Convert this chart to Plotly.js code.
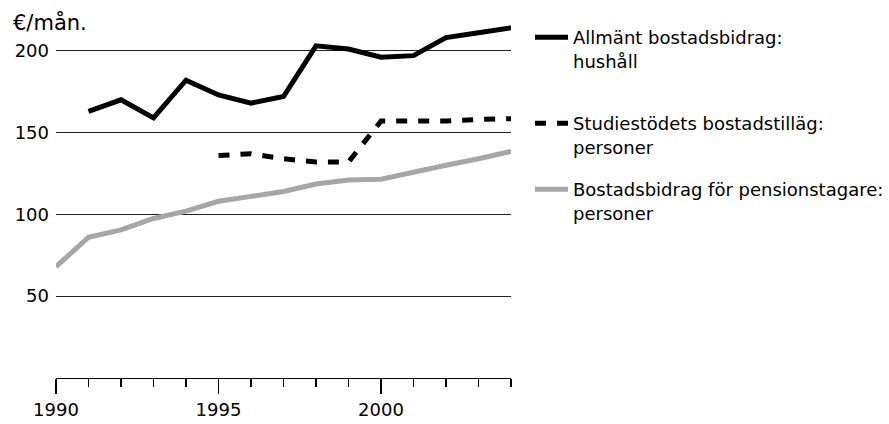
<!DOCTYPE html>
<html>
<head>
<meta charset="utf-8">
<script src="https://cdn.plot.ly/plotly-3.0.1.min.js"></script>
<style>
  html, body { margin: 0; padding: 0; background: #ffffff; }
  #chart { width: 889px; height: 424px; }
</style>
</head>
<body>
<div id="chart"></div>
<script>
const years = [1990, 1991, 1992, 1993, 1994, 1995, 1996, 1997, 1998, 1999, 2000, 2001, 2002, 2003, 2004];
const allmant = [null, 163, 170, 159, 182, 173, 168, 172, 203, 201, 196, 197, 208, 211, 214];
const studie = [null, null, null, null, null, 136, 137, 134, 132, 132, 157, 157, 157, 158, 158.5];
const pension = [68, 86, 90.5, 97.5, 102, 108, 111, 114, 118.5, 121, 121.5, 126, 130, 134, 138.5];

const seriesNames = [
  'Allmänt bostadsbidrag:<br>hushåll',
  'Studiestödets bostadstilläg:<br>personer',
  'Bostadsbidrag för pensionstagare:<br>personer'
];
const yTicks = [50, 100, 150, 200];
const xTicks = [1990, 1995, 2000];
const unitLabel = '€/mån.';

const FONT = 'DejaVu Sans, sans-serif';
const FS = 18;

const traces = [
  {
    x: years, y: allmant, type: 'scatter', mode: 'lines', name: seriesNames[0],
    line: { color: '#000000', width: 5 }, legend: 'legend', connectgaps: false
  },
  {
    x: years, y: studie, type: 'scatter', mode: 'lines', name: seriesNames[1],
    line: { color: '#000000', width: 5, dash: '11px,11px' }, legend: 'legend2'
  },
  {
    x: years, y: pension, type: 'scatter', mode: 'lines', name: seriesNames[2],
    line: { color: '#a6a6a6', width: 5 }, legend: 'legend3'
  }
];

const legendBase = {
  xref: 'container', yref: 'container', xanchor: 'left', yanchor: 'top',
  bgcolor: 'rgba(0,0,0,0)', borderwidth: 0, valign: 'top', itemwidth: 33,
  font: { family: FONT, size: FS, color: '#000' }
};

const layout = {
  width: 889, height: 424,
  margin: { l: 56, r: 378, t: 18, b: 46 },
  paper_bgcolor: '#ffffff', plot_bgcolor: '#ffffff',
  font: { family: FONT, size: FS, color: '#000000' },
  showlegend: true,
  xaxis: {
    range: [1990, 2004], tickvals: xTicks, ticktext: xTicks.map(String),
    showgrid: false, zeroline: false, showline: true, linecolor: '#000', linewidth: 1.2,
    ticks: 'outside', ticklen: 15, tickwidth: 1.2, tickcolor: '#000',
    minor: { dtick: 1, tick0: 1990, ticks: 'outside', ticklen: 8, tickwidth: 1.2, tickcolor: '#000', showgrid: false },
    tickfont: { family: FONT, size: FS, color: '#000' }, fixedrange: true
  },
  yaxis: {
    range: [0, 220], tickvals: yTicks, ticktext: yTicks.map(String),
    showgrid: true, gridcolor: '#222', gridwidth: 1.2, zeroline: false, showline: false,
    ticks: '', tickfont: { family: FONT, size: FS, color: '#000' }, ticklabelstandoff: 6, fixedrange: true
  },
  legend: Object.assign({}, legendBase, { x: 530 / 889, y: 1 - 19 / 424 }),
  legend2: Object.assign({}, legendBase, { x: 530 / 889, y: 1 - 105 / 424 }),
  legend3: Object.assign({}, legendBase, { x: 530 / 889, y: 1 - 171 / 424 }),
  annotations: [
    { text: unitLabel, xref: 'paper', yref: 'paper', x: -45 / 455, y: 1, xanchor: 'left', yanchor: 'middle',
      yshift: -4, showarrow: false, font: { family: FONT, size: 21, color: '#000' } }
  ]
};

Plotly.newPlot('chart', traces, layout, { staticPlot: true, displayModeBar: false });
</script>
</body>
</html>
